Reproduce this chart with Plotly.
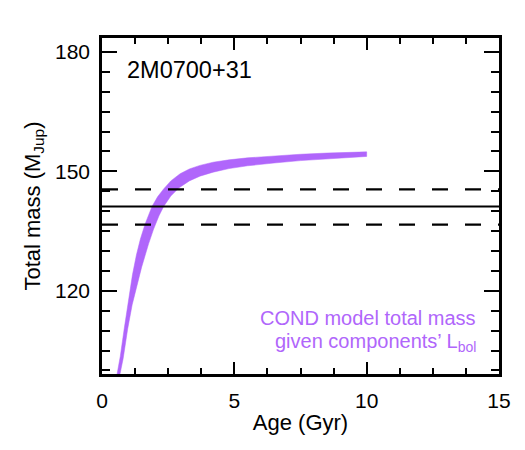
import plotly.graph_objects as go

# ---- data ----
upper_age = [0.50, 0.57, 0.69, 0.84, 1.00, 1.15, 1.30, 1.45, 1.63, 1.89, 2.10, 2.33, 2.60, 2.95, 3.30, 3.70, 4.20, 4.80, 5.50, 6.50, 7.50, 8.50, 10.0]
upper_mass = [96.5, 99.1, 103.5, 110.5, 118.0, 124.0, 129.0, 133.0, 136.8, 141.2, 143.6, 145.6, 147.6, 149.4, 150.6, 151.5, 152.3, 152.9, 153.4, 153.9, 154.3, 154.6, 154.9]
lower_age = [0.62, 0.68, 0.80, 0.97, 1.14, 1.32, 1.50, 1.76, 1.95, 2.15, 2.33, 2.60, 2.90, 3.30, 3.70, 4.20, 4.80, 5.50, 6.50, 7.50, 8.50, 10.0]
lower_mass = [96.5, 99.1, 103.0, 110.4, 116.5, 121.5, 126.0, 131.8, 135.5, 138.8, 141.2, 143.8, 145.8, 147.6, 148.8, 149.8, 150.7, 151.4, 152.1, 152.7, 153.2, 153.75]

total_mass = 141.2
mass_hi = 145.5
mass_lo = 136.6

x_range = [0, 15]
y_range = [99.1, 183.5]
x_ticks = [0, 5, 10, 15]
y_ticks = [120, 150, 180]

object_name = "2M0700+31"
model_label = ["COND model total mass", "given components\u2019 L<sub>bol</sub>"]

PURPLE = "#b066fb"
FONT = "Liberation Sans, Arial, Helvetica, sans-serif"

fig = go.Figure()

fig.add_trace(go.Scatter(
    x=upper_age + lower_age[::-1],
    y=upper_mass + lower_mass[::-1],
    mode="lines", fill="toself", fillcolor=PURPLE,
    line=dict(color=PURPLE, width=0.5),
    hoverinfo="skip", showlegend=False,
))

# measured total mass and its uncertainty
fig.add_shape(type="line", xref="x domain", yref="y", x0=0, x1=1, y0=total_mass, y1=total_mass,
              line=dict(color="black", width=2))
for m in (mass_hi, mass_lo):
    fig.add_shape(type="line", xref="x domain", yref="y", x0=0, x1=1, y0=m, y1=m,
                  line=dict(color="black", width=2.3, dash="16px,17px"))

fig.add_annotation(text=object_name, xref="paper", yref="paper", x=0.058, y=0.905,
                   xanchor="left", yanchor="middle", showarrow=False,
                   font=dict(size=23.5, color="black", family=FONT))
fig.add_annotation(text=model_label[0], xref="paper", yref="paper", x=0.947, y=0.168,
                   xanchor="right", yanchor="middle", showarrow=False,
                   font=dict(size=20, color=PURPLE, family=FONT))
fig.add_annotation(text=model_label[1], xref="paper", yref="paper", x=0.947, y=0.093,
                   xanchor="right", yanchor="middle", showarrow=False,
                   font=dict(size=20, color=PURPLE, family=FONT))

axis_common = dict(
    showline=True, linecolor="black", linewidth=2.5, mirror="allticks",
    ticks="inside", tickcolor="black", tickwidth=2,
    showgrid=False, zeroline=False,
    tickfont=dict(size=21, color="black", family=FONT),
)

fig.update_xaxes(
    range=x_range, tickvals=x_ticks, ticklen=12,
    minor=dict(ticks="inside", dtick=1.25, tick0=0, ticklen=6, tickwidth=2, tickcolor="black", showgrid=False),
    title=dict(text="Age (Gyr)", font=dict(size=22, color="black", family=FONT), standoff=4),
    ticklabelstandoff=6,
    **axis_common,
)
fig.update_yaxes(
    range=y_range, tickvals=y_ticks, ticklen=15,
    minor=dict(ticks="inside", dtick=5, tick0=0, ticklen=8, tickwidth=2, tickcolor="black", showgrid=False),
    title=dict(text="Total mass (M<sub>Jup</sub>)", font=dict(size=22, color="black", family=FONT), standoff=9),
    ticklabelstandoff=5,
    **axis_common,
)

fig.update_layout(
    width=525, height=450,
    margin=dict(l=102, r=26, t=38, b=76),
    paper_bgcolor="white", plot_bgcolor="white",
    font=dict(family=FONT, color="black"),
    showlegend=False,
)

fig.write_html("out.html")
